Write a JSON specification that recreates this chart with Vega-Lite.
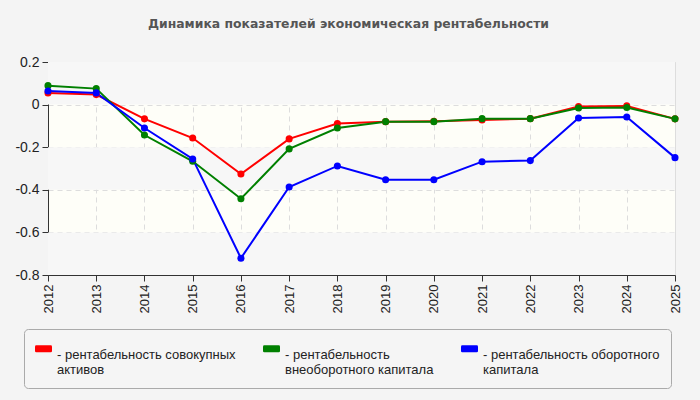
{
  "$schema": "https://vega.github.io/schema/vega-lite/v6.json",
  "width": 627,
  "height": 213,
  "padding": {"left": 14, "top": 17, "right": 24, "bottom": 12},
  "background": "#f4f4f4",
  "title": {
    "text": "Динамика показателей экономическая рентабельности",
    "font": "DejaVu Sans",
    "fontSize": 12.4,
    "fontWeight": "bold",
    "color": "#555555",
    "anchor": "middle",
    "offset": 25,
    "dx": -13
  },
  "config": {
    "font": "Liberation Sans",
    "view": {"fill": "#fefef8", "stroke": "#dddddd"}
  },
  "datasets": {
    "bands": [
      {"top": 0.2, "bottom": 0},
      {"top": -0.2, "bottom": -0.4},
      {"top": -0.6, "bottom": -0.8}
    ],
    "series": [
      {"year": 2012, "series": "рентабельность совокупных активов", "value": 0.055},
      {"year": 2013, "series": "рентабельность совокупных активов", "value": 0.047},
      {"year": 2014, "series": "рентабельность совокупных активов", "value": -0.067},
      {"year": 2015, "series": "рентабельность совокупных активов", "value": -0.157},
      {"year": 2016, "series": "рентабельность совокупных активов", "value": -0.326},
      {"year": 2017, "series": "рентабельность совокупных активов", "value": -0.161},
      {"year": 2018, "series": "рентабельность совокупных активов", "value": -0.089},
      {"year": 2019, "series": "рентабельность совокупных активов", "value": -0.08},
      {"year": 2020, "series": "рентабельность совокупных активов", "value": -0.078},
      {"year": 2021, "series": "рентабельность совокупных активов", "value": -0.072},
      {"year": 2022, "series": "рентабельность совокупных активов", "value": -0.066},
      {"year": 2023, "series": "рентабельность совокупных активов", "value": -0.009},
      {"year": 2024, "series": "рентабельность совокупных активов", "value": -0.006},
      {"year": 2025, "series": "рентабельность совокупных активов", "value": -0.067},
      {"year": 2012, "series": "рентабельность внеоборотного капитала", "value": 0.089},
      {"year": 2013, "series": "рентабельность внеоборотного капитала", "value": 0.075},
      {"year": 2014, "series": "рентабельность внеоборотного капитала", "value": -0.143},
      {"year": 2015, "series": "рентабельность внеоборотного капитала", "value": -0.266},
      {"year": 2016, "series": "рентабельность внеоборотного капитала", "value": -0.442},
      {"year": 2017, "series": "рентабельность внеоборотного капитала", "value": -0.208},
      {"year": 2018, "series": "рентабельность внеоборотного капитала", "value": -0.11},
      {"year": 2019, "series": "рентабельность внеоборотного капитала", "value": -0.08},
      {"year": 2020, "series": "рентабельность внеоборотного капитала", "value": -0.08},
      {"year": 2021, "series": "рентабельность внеоборотного капитала", "value": -0.066},
      {"year": 2022, "series": "рентабельность внеоборотного капитала", "value": -0.066},
      {"year": 2023, "series": "рентабельность внеоборотного капитала", "value": -0.016},
      {"year": 2024, "series": "рентабельность внеоборотного капитала", "value": -0.014},
      {"year": 2025, "series": "рентабельность внеоборотного капитала", "value": -0.067},
      {"year": 2012, "series": "рентабельность оборотного капитала", "value": 0.064},
      {"year": 2013, "series": "рентабельность оборотного капитала", "value": 0.055},
      {"year": 2014, "series": "рентабельность оборотного капитала", "value": -0.11},
      {"year": 2015, "series": "рентабельность оборотного капитала", "value": -0.255},
      {"year": 2016, "series": "рентабельность оборотного капитала", "value": -0.721},
      {"year": 2017, "series": "рентабельность оборотного капитала", "value": -0.387},
      {"year": 2018, "series": "рентабельность оборотного капитала", "value": -0.288},
      {"year": 2019, "series": "рентабельность оборотного капитала", "value": -0.353},
      {"year": 2020, "series": "рентабельность оборотного капитала", "value": -0.353},
      {"year": 2021, "series": "рентабельность оборотного капитала", "value": -0.268},
      {"year": 2022, "series": "рентабельность оборотного капитала", "value": -0.263},
      {"year": 2023, "series": "рентабельность оборотного капитала", "value": -0.063},
      {"year": 2024, "series": "рентабельность оборотного капитала", "value": -0.058},
      {"year": 2025, "series": "рентабельность оборотного капитала", "value": -0.249}
    ]
  },
  "layer": [
    {
      "data": {"name": "bands"},
      "mark": {"type": "rect", "fill": "#f7f7f7"},
      "encoding": {
        "y": {
          "field": "top",
          "type": "quantitative",
          "scale": {"domain": [-0.8, 0.2], "nice": false, "zero": false},
          "axis": {
            "title": null,
            "values": [-0.8, -0.6, -0.4, -0.2, 0, 0.2],
            "labelExpr": "'' + datum.value",
            "labelFont": "Liberation Sans",
            "labelFontSize": 14,
            "labelColor": "#222222",
            "labelPadding": 3,
            "tickSize": 6,
            "tickColor": "#333333",
            "domainColor": "#333333",
            "gridColor": "#dddddd",
            "gridDash": [5, 4]
          }
        },
        "y2": {"field": "bottom"}
      }
    },
    {
      "data": {"name": "series"},
      "mark": {"type": "line", "strokeWidth": 2},
      "encoding": {
        "x": {
          "field": "year",
          "type": "ordinal",
          "scale": {"type": "point", "padding": 0},
          "axis": {
            "title": null,
            "labelAngle": -90,
            "labelFont": "Liberation Sans",
            "labelFontSize": 13,
            "labelColor": "#222222",
            "labelPadding": 3,
            "tickSize": 6,
            "tickColor": "#333333",
            "domainColor": "#333333",
            "grid": true,
            "gridColor": "#dddddd",
            "gridDash": [5, 4]
          }
        },
        "y": {"field": "value", "type": "quantitative"},
        "color": {
          "field": "series",
          "type": "nominal",
          "scale": {
            "domain": ["рентабельность совокупных активов", "рентабельность внеоборотного капитала", "рентабельность оборотного капитала"],
            "range": ["#ff0000", "#008000", "#0000ff"]
          },
          "legend": {
            "orient": "none",
            "legendX": -24,
            "legendY": 267,
            "direction": "horizontal",
            "columns": 3,
            "title": null,
            "padding": 11,
            "fillColor": "#f5f5f5",
            "strokeColor": "#aaaaaa",
            "cornerRadius": 4,
            "columnPadding": 27,
            "symbolType": "M-0.85,-0.4H0.85Q1,-0.4 1,-0.25V0.25Q1,0.4 0.85,0.4H-0.85Q-1,0.4 -1,0.25V-0.25Q-1,-0.4 -0.85,-0.4Z",
            "symbolSize": 289,
            "symbolStrokeWidth": 0,
            "labelFont": "Liberation Sans",
            "labelFontSize": 13,
            "labelColor": "#222222",
            "labelOffset": 5,
            "labelBaseline": "top",
            "labelLimit": 400,
            "labelExpr": "datum.label == 'рентабельность совокупных активов' ? ['- рентабельность совокупных', '\u00a0\u00a0активов'] : datum.label == 'рентабельность внеоборотного капитала' ? ['- рентабельность', '\u00a0\u00a0внеоборотного капитала'] : ['- рентабельность оборотного', '\u00a0\u00a0капитала']"
          }
        }
      }
    },
    {
      "data": {"name": "series"},
      "mark": {"type": "point", "filled": true, "size": 50, "opacity": 1},
      "encoding": {
        "x": {"field": "year", "type": "ordinal"},
        "y": {"field": "value", "type": "quantitative"},
        "color": {"field": "series", "type": "nominal"}
      }
    }
  ]
}
